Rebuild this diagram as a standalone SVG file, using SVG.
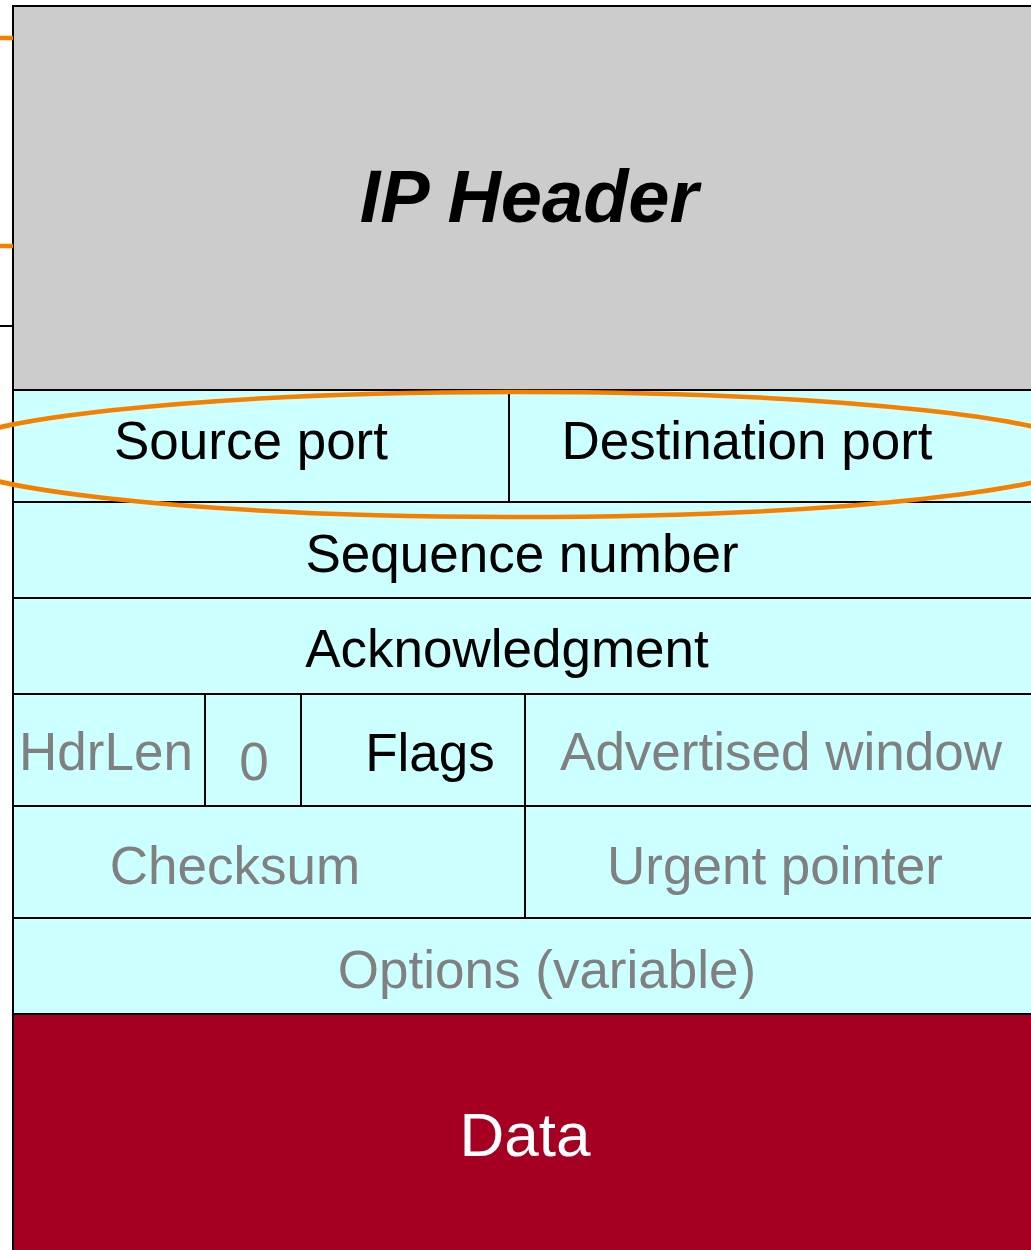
<svg xmlns="http://www.w3.org/2000/svg" width="1031" height="1250" viewBox="0 0 1031 1250">
  <style>
    .cell { fill: #CCFFFF; stroke: #000; stroke-width: 2; }
    .ip { fill: #CCCCCC; stroke: #000; stroke-width: 2; }
    .data { fill: #A50021; stroke: #000; stroke-width: 2; }
    .div { stroke: #000; stroke-width: 2; fill: none; }
    .lbl { font-family: "Liberation Sans", Arial, sans-serif; font-size: 53px; text-anchor: middle; fill: #000; }
    .dim { fill: #808080; }
    .hl { stroke: #F58000; stroke-width: 4.5; fill: none; }
  </style>

  <rect width="1031" height="1250" fill="#FFFFFF"/>

  <!-- IP header block -->
  <g id="ip-header">
    <rect class="ip" x="13" y="6" width="1040" height="384"/>
    <text class="lbl" x="529" y="222" style="font-size:74px;font-weight:bold;font-style:italic">IP Header</text>
  </g>

  <!-- Row 1: ports -->
  <g id="source-port">
    <rect class="cell" x="13" y="390" width="496" height="112"/>
    <text class="lbl" x="251" y="459">Source port</text>
  </g>
  <g id="destination-port">
    <rect class="cell" x="509" y="390" width="544" height="112"/>
    <text class="lbl" x="747" y="459">Destination port</text>
  </g>

  <!-- Row 2 -->
  <g id="sequence-number">
    <rect class="cell" x="13" y="502" width="1040" height="96"/>
    <text class="lbl" x="522" y="572">Sequence number</text>
  </g>

  <!-- Row 3 -->
  <g id="acknowledgment">
    <rect class="cell" x="13" y="598" width="1040" height="96"/>
    <text class="lbl" x="507" y="667">Acknowledgment</text>
  </g>

  <!-- Row 4 -->
  <g id="hdrlen">
    <rect class="cell" x="13" y="694" width="192" height="112"/>
    <text class="lbl dim" x="106" y="770">HdrLen</text>
  </g>
  <g id="reserved">
    <rect class="cell" x="205" y="694" width="96" height="112"/>
    <text class="lbl dim" x="254" y="780">0</text>
  </g>
  <g id="flags">
    <rect class="cell" x="301" y="694" width="224" height="112"/>
    <text class="lbl" x="430" y="771">Flags</text>
  </g>
  <g id="advertised-window">
    <rect class="cell" x="525" y="694" width="528" height="112"/>
    <text class="lbl dim" x="781" y="770">Advertised window</text>
  </g>

  <!-- Row 5 -->
  <g id="checksum">
    <rect class="cell" x="13" y="806" width="512" height="112"/>
    <text class="lbl dim" x="235" y="884">Checksum</text>
  </g>
  <g id="urgent-pointer">
    <rect class="cell" x="525" y="806" width="528" height="112"/>
    <text class="lbl dim" x="775" y="884">Urgent pointer</text>
  </g>

  <!-- Row 6 -->
  <g id="options">
    <rect class="cell" x="13" y="918" width="1040" height="96"/>
    <text class="lbl dim" x="547" y="988">Options (variable)</text>
  </g>

  <!-- Payload -->
  <g id="data">
    <rect class="data" x="13" y="1014" width="1040" height="250"/>
    <text class="lbl" x="525" y="1156" style="font-size:62px;fill:#FFFFFF">Data</text>
  </g>

  <!-- Highlight ring and marker lines -->
  <g id="connectors">
    <ellipse class="hl" cx="518" cy="454.5" rx="575" ry="62.5"/>
    <line class="hl" x1="0" y1="38" x2="13" y2="38"/>
    <line class="hl" x1="0" y1="246" x2="13" y2="246"/>
    <line class="div" x1="0" y1="326" x2="13" y2="326"/>
  </g>
</svg>
